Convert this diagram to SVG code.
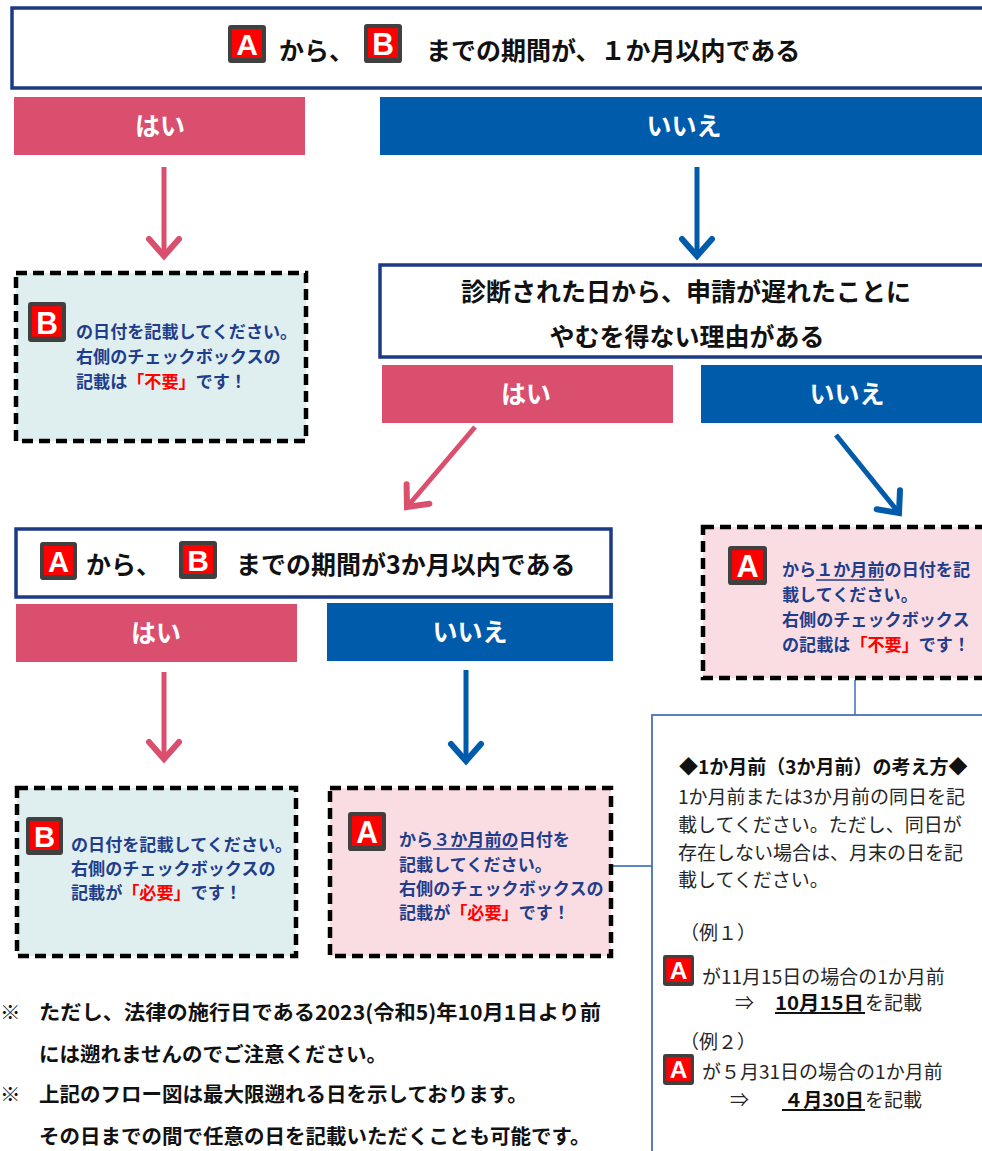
<svg xmlns="http://www.w3.org/2000/svg" xmlns:xlink="http://www.w3.org/1999/xlink" width="982" height="1151" viewBox="0 0 982 1151">
<style>
text{font-family:"Noto Sans CJK JP","Noto Sans CJK SC",sans-serif}
.hdr{font-weight:700;font-size:25px;fill:#111}
.lbl{font-weight:700;font-size:25px;fill:#fff;text-anchor:middle}
.bx{font-weight:700;font-size:17.1px;fill:#1f3d8b}
.red{fill:#ff0000}
.note{font-size:19px;fill:#262626}
.noteb{font-size:19px;font-weight:700;fill:#111}
.foot{font-weight:700;font-size:20.5px;fill:#111}
.q{fill:#fff;stroke:#1d3a87;stroke-width:3.5}
.pk{fill:#db4f6e}
.bl{fill:#005bab}
.dash{stroke:#000;stroke-width:4.5;stroke-dasharray:11 6}
.teal{fill:#dfeff0}
.rose{fill:#fadde2}
.ap{stroke:#db4f6e;stroke-width:5;fill:none}
.ab{stroke:#005bab;stroke-width:5;fill:none}
.thin{stroke:#5b88cc;stroke-width:1.8;fill:none}
.ul{stroke:#1f3d8b;stroke-width:1.5}
.ulk{stroke:#111;stroke-width:1.8}
.bdg{font-family:"Liberation Sans",Arial,sans-serif;font-weight:700;font-size:30px;fill:#fff;text-anchor:middle}
</style>
<defs>
<symbol id="bA" viewBox="0 0 38 38" preserveAspectRatio="none">
<rect x="0" y="0" width="38" height="38" rx="3" fill="#404040"/>
<rect x="4" y="4" width="30" height="29" fill="#ff0000"/>
<text class="bdg" x="19" y="30">A</text>
</symbol>
<symbol id="bB" viewBox="0 0 38 38" preserveAspectRatio="none">
<rect x="0" y="0" width="38" height="38" rx="3" fill="#404040"/>
<rect x="4" y="4" width="30" height="29" fill="#ff0000"/>
<text class="bdg" x="19" y="30">B</text>
</symbol>
<marker id="mp" viewBox="-25 -25 50 50" markerWidth="50" markerHeight="50" refX="0" refY="0" orient="auto" markerUnits="userSpaceOnUse" overflow="visible">
<path d="M-17,-15 L0,0 L-17,15" fill="none" stroke="#db4f6e" stroke-width="6" stroke-linecap="round"/>
</marker>
<marker id="mb" viewBox="-25 -25 50 50" markerWidth="50" markerHeight="50" refX="0" refY="0" orient="auto" markerUnits="userSpaceOnUse" overflow="visible">
<path d="M-17,-15 L0,0 L-17,15" fill="none" stroke="#005bab" stroke-width="6" stroke-linecap="round"/>
</marker>
</defs>

<rect width="982" height="1151" fill="#fff"/>

<g id="connectors">
<line class="ap" x1="164" y1="167" x2="164" y2="256" marker-end="url(#mp)"/>
<line class="ab" x1="697" y1="167" x2="697" y2="256" marker-end="url(#mb)"/>
<line class="ap" x1="475" y1="427" x2="407" y2="507" stroke-width="6" marker-end="url(#mp)"/>
<line class="ab" x1="836" y1="435" x2="899" y2="513" stroke-width="6" marker-end="url(#mb)"/>
<line class="ap" x1="164" y1="672" x2="164" y2="759" marker-end="url(#mp)"/>
<line class="ab" x1="466" y1="670" x2="466" y2="761" marker-end="url(#mb)"/>
<line class="thin" x1="855" y1="680" x2="855" y2="715"/>
<line class="thin" x1="613" y1="866" x2="652" y2="866"/>
</g>

<g id="q1">
<rect class="q" x="12" y="8" width="985" height="80"/>
<use xlink:href="#bA" x="228" y="25" width="38" height="38"/>
<text class="hdr" x="279" y="60">から、</text>
<use xlink:href="#bB" x="364" y="24" width="38" height="39"/>
<text class="hdr" x="426" y="60">までの期間が、１か月以内である</text>
</g>

<g id="yes1"><rect class="pk" x="14" y="97" width="291" height="58"/><text class="lbl" x="160" y="135">はい</text></g>
<g id="no1"><rect class="bl" x="380" y="97" width="602" height="58"/><text class="lbl" x="684" y="135">いいえ</text></g>

<g id="resB1">
<rect class="teal dash" x="16" y="273" width="290" height="168"/>
<use xlink:href="#bB" x="28" y="302" width="38" height="40"/>
<text class="bx" x="76" y="338">の日付を記載してください。</text>
<text class="bx" x="76" y="363">右側のチェックボックスの</text>
<text class="bx" x="76" y="388">記載は<tspan class="red">「不要」</tspan>です！</text>
</g>

<g id="q2">
<rect class="q" x="380" y="265" width="617" height="92"/>
<text class="hdr" x="686" y="301" text-anchor="middle">診断された日から、申請が遅れたことに</text>
<text class="hdr" x="687" y="346" text-anchor="middle">やむを得ない理由がある</text>
</g>

<g id="yes2"><rect class="pk" x="382" y="365" width="291" height="58"/><text class="lbl" x="526" y="403">はい</text></g>
<g id="no2"><rect class="bl" x="701" y="365" width="281" height="58"/><text class="lbl" x="847" y="403">いいえ</text></g>

<g id="q3">
<rect class="q" x="16" y="529" width="595" height="68"/>
<use xlink:href="#bA" x="40" y="542" width="37" height="38"/>
<text class="hdr" x="86" y="574">から、</text>
<use xlink:href="#bB" x="179" y="541" width="38" height="38"/>
<text class="hdr" x="236" y="574">までの期間が3か月以内である</text>
</g>

<g id="resA1">
<rect class="rose dash" x="703" y="527" width="295" height="151"/>
<use xlink:href="#bA" x="728" y="546" width="39" height="39"/>
<text class="bx" x="782" y="576">から１か月前の日付を記</text>
<line class="ul" x1="816" y1="580" x2="884" y2="580"/>
<text class="bx" x="782" y="601">載してください。</text>
<text class="bx" x="782" y="626">右側のチェックボックス</text>
<text class="bx" x="782" y="651">の記載は<tspan class="red">「不要」</tspan>です！</text>
</g>

<g id="yes3"><rect class="pk" x="16" y="604" width="281" height="58"/><text class="lbl" x="156" y="642">はい</text></g>
<g id="no3"><rect class="bl" x="327" y="603" width="286" height="58"/><text class="lbl" x="470" y="641">いいえ</text></g>

<g id="resB2">
<rect class="teal dash" x="17" y="788" width="279" height="168"/>
<use xlink:href="#bB" x="26" y="817" width="37" height="38"/>
<text class="bx" x="71" y="851">の日付を記載してください。</text>
<text class="bx" x="71" y="875">右側のチェックボックスの</text>
<text class="bx" x="71" y="899">記載が<tspan class="red">「必要」</tspan>です！</text>
</g>

<g id="resA3">
<rect class="rose dash" x="330" y="788" width="281" height="168"/>
<use xlink:href="#bA" x="348" y="812" width="38" height="39"/>
<text class="bx" x="399" y="846">から３か月前の日付を</text>
<line class="ul" x1="433" y1="849" x2="518" y2="849"/>
<text class="bx" x="399" y="871">記載してください。</text>
<text class="bx" x="399" y="895">右側のチェックボックスの</text>
<text class="bx" x="399" y="919">記載が<tspan class="red">「必要」</tspan>です！</text>
</g>

<g id="note">
<rect x="652" y="715" width="345" height="450" fill="#fff" stroke="#4a6fb8" stroke-width="1.8"/>
<text class="noteb" x="679" y="774">◆1か月前（3か月前）の考え方◆</text>
<text class="note" x="678" y="804">1か月前または3か月前の同日を記</text>
<text class="note" x="678" y="832">載してください。ただし、同日が</text>
<text class="note" x="678" y="860">存在しない場合は、月末の日を記</text>
<text class="note" x="678" y="887">載してください。</text>
<text class="note" x="680" y="940">（例１）</text>
<use xlink:href="#bA" x="663" y="955" width="31" height="31"/>
<text class="note" x="702" y="984">が11月15日の場合の1か月前</text>
<text class="note" x="735" y="1010">⇒</text>
<text class="noteb" x="775" y="1010" textLength="89" lengthAdjust="spacingAndGlyphs">10月15日</text>
<line class="ulk" x1="775" y1="1013" x2="865" y2="1013"/>
<text class="note" x="865" y="1010">を記載</text>
<text class="note" x="680" y="1049">（例２）</text>
<use xlink:href="#bA" x="663" y="1054" width="31" height="31"/>
<text class="note" x="702" y="1079">が５月31日の場合の1か月前</text>
<text class="note" x="730" y="1107">⇒</text>
<text class="noteb" x="784" y="1107" textLength="80" lengthAdjust="spacingAndGlyphs">４月30日</text>
<line class="ulk" x1="782" y1="1110" x2="865" y2="1110"/>
<text class="note" x="865" y="1107">を記載</text>
</g>

<g id="footnotes">
<text class="foot" x="0" y="1020">※</text>
<text class="foot" x="39" y="1020" textLength="562" lengthAdjust="spacingAndGlyphs">ただし、法律の施行日である2023(令和5)年10月1日より前</text>
<text class="foot" x="39" y="1062">には遡れませんのでご注意ください。</text>
<text class="foot" x="0" y="1102">※</text>
<text class="foot" x="39" y="1102">上記のフロー図は最大限遡れる日を示しております。</text>
<text class="foot" x="39" y="1144">その日までの間で任意の日を記載いただくことも可能です。</text>
</g>
</svg>
